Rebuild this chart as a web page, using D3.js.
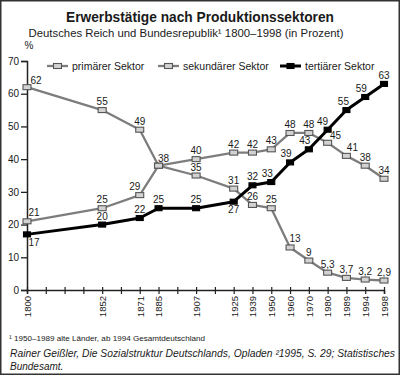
<!DOCTYPE html>
<html lang="de">
<head>
<meta charset="UTF-8">
<title>Erwerbstätige nach Produktionssektoren</title>
<script src="https://d3js.org/d3.v7.min.js"></script>
<style>
  body { margin: 0; background: #fff; }
  svg text { font-family: "Liberation Sans", Arial, Helvetica, sans-serif; fill: #1a1a1a; }
</style>
</head>
<body>
<div id="chart"></div>
<script>
// x axis slots: the years sit on an evenly ticked axis with some empty slots
const slots = ["1800", "", "", "", "1852", "", "1871", "1885", "", "1907", "", "1925", "1939",
               "1950", "1960", "1970", "1980", "1989", "1994", "1998"];
const years = ["1800", "1852", "1871", "1885", "1907", "1925", "1939", "1950", "1960", "1970", "1980", "1989", "1994", "1998"];
const primaer   = [62, 55, 49, 38, 35, 31, 26, 25, 13, 9, 5.3, 3.7, 3.2, 2.9];
const sekundaer = [21, 25, 29, 38, 40, 42, 42, 43, 48, 48, 45, 41, 38, 34];
const tertiaer  = [17, 20, 22, 25, 25, 27, 32, 33, 39, 43, 49, 55, 59, 63];
const yTicks = [0, 10, 20, 30, 40, 50, 60, 70];
const seriesNames = ["primärer Sektor", "sekundärer Sektor", "tertiärer Sektor"];

const W = 400, H = 375;
const svg = d3.select("#chart").append("svg")
    .attr("width", W).attr("height", H);

// frame
svg.append("rect")
    .attr("x", 0.75).attr("y", 0.75)
    .attr("width", W - 1.5).attr("height", H - 1.5)
    .attr("fill", "#fff").attr("stroke", "#333").attr("stroke-width", 1.5);

// titles
svg.append("text")
    .attr("x", 200).attr("y", 22)
    .attr("text-anchor", "middle")
    .attr("font-size", 15).attr("font-weight", "bold")
    .attr("textLength", 268).attr("lengthAdjust", "spacingAndGlyphs")
    .text("Erwerbstätige nach Produktionssektoren");
svg.append("text")
    .attr("x", 186).attr("y", 37)
    .attr("text-anchor", "middle")
    .attr("font-size", 10.5)
    .attr("textLength", 315).attr("lengthAdjust", "spacingAndGlyphs")
    .text("Deutsches Reich und Bundesrepublik¹ 1800–1998 (in Prozent)");

const x = d3.scaleLinear().domain([0, slots.length - 1]).range([27, 384]);
const y = d3.scaleLinear().domain([0, 70]).range([290, 61]);
const xOf = yr => x(slots.indexOf(yr));

// y axis
const yAxis = svg.append("g")
    .attr("transform", "translate(27,0)")
    .call(d3.axisLeft(y).tickValues(yTicks).tickSize(6).tickPadding(2));
yAxis.select(".domain").attr("stroke", "#222").attr("stroke-width", 1.5);
yAxis.selectAll(".tick line").attr("stroke", "#222").attr("stroke-width", 1.3);
yAxis.selectAll(".tick text").attr("font-size", 10).attr("font-family", null).attr("fill", "#1a1a1a");

svg.append("text")
    .attr("x", 29).attr("y", 49)
    .attr("text-anchor", "middle").attr("font-size", 10)
    .text("%");

// x axis: every slot gets a tick, only filled slots get a label
const xAxis = svg.append("g")
    .attr("transform", "translate(0,290)")
    .call(d3.axisBottom(x)
        .tickValues(d3.range(slots.length))
        .tickSize(4)
        .tickFormat(i => slots[i]));
xAxis.select(".domain").attr("stroke", "#222").attr("stroke-width", 1.5);
xAxis.selectAll(".tick line")
    .attr("y1", -3)
    .attr("stroke", "#222").attr("stroke-width", 1.2);
xAxis.selectAll(".tick text")
    .attr("font-size", 9.5).attr("font-family", null).attr("fill", "#1a1a1a")
    .attr("transform", "rotate(-90)")
    .attr("text-anchor", "end")
    .attr("x", -6).attr("y", 0).attr("dy", "0.35em");

// series
const series = [
  { name: seriesNames[0], values: primaer,   color: "#7d7d7d", width: 2.3, fill: "#d2d2d2", stroke: "#555", mw: 8, mh: 5 },
  { name: seriesNames[1], values: sekundaer, color: "#7d7d7d", width: 2.3, fill: "#d2d2d2", stroke: "#555", mw: 8, mh: 5 },
  { name: seriesNames[2], values: tertiaer,  color: "#000",    width: 3,   fill: "#000",    stroke: "#000", mw: 7, mh: 5 }
];

const line = d3.line()
    .x(d => xOf(d.year))
    .y(d => y(d.value));

series.forEach(s => {
  const pts = years.map((yr, i) => ({ year: yr, value: s.values[i] }));
  svg.append("path")
      .datum(pts)
      .attr("fill", "none")
      .attr("stroke", s.color)
      .attr("stroke-width", s.width)
      .attr("stroke-linejoin", "round")
      .attr("d", line);
  svg.append("g").selectAll("rect")
    .data(pts)
    .join("rect")
      .attr("x", d => xOf(d.year) - s.mw / 2)
      .attr("y", d => y(d.value) - s.mh / 2)
      .attr("width", s.mw).attr("height", s.mh)
      .attr("fill", s.fill).attr("stroke", s.stroke).attr("stroke-width", 1.1);
});

// value labels: above the point by default, nudged where the original moves them
const nudge = {
  "0-1800": [9, -3], "1-1800": [7, -5], "2-1800": [7, 12],
  "1-1871": [-5, -5], "1-1885": [5, -4],
  "0-1960": [5, -5], "1-1980": [8, -4], "1-1989": [6, -5],
  "2-1925": [0, 11], "2-1950": [-4, -5], "2-1960": [-4, -5], "2-1970": [-4, -5],
  "2-1980": [-5, -5], "2-1989": [-3, -5], "2-1994": [-4, -5]
};
const skip = new Set(["0-1885"]);
const fmt = v => String(v).replace(".", ",");

series.forEach((s, si) => {
  years.forEach((yr, i) => {
    const key = si + "-" + yr;
    if (skip.has(key)) return;
    const [dx, dy] = nudge[key] || [0, -5];
    svg.append("text")
        .attr("x", xOf(yr) + dx)
        .attr("y", y(s.values[i]) + dy)
        .attr("text-anchor", "middle")
        .attr("font-size", 10)
        .text(fmt(s.values[i]));
  });
});

// legend
const legendX = [47, 158, 280];
series.forEach((s, si) => {
  const g = svg.append("g").attr("transform", `translate(${legendX[si]},66)`);
  g.append("line")
      .attr("x1", 0).attr("x2", 21)
      .attr("stroke", s.color).attr("stroke-width", s.width);
  g.append("rect")
      .attr("x", 10.5 - s.mw / 2).attr("y", -s.mh / 2)
      .attr("width", s.mw).attr("height", s.mh)
      .attr("fill", s.fill).attr("stroke", s.stroke).attr("stroke-width", 1.1);
  g.append("text")
      .attr("x", 25).attr("y", 4)
      .attr("font-size", 10.5)
      .text(s.name);
});

// footnote and source
svg.append("text")
    .attr("x", 9).attr("y", 341)
    .attr("font-size", 7.5)
    .attr("textLength", 196).attr("lengthAdjust", "spacingAndGlyphs")
    .text("¹ 1950–1989 alte Länder, ab 1994 Gesamtdeutschland");
svg.append("text")
    .attr("x", 10).attr("y", 357)
    .attr("font-size", 10).attr("font-style", "italic")
    .attr("textLength", 385).attr("lengthAdjust", "spacingAndGlyphs")
    .text("Rainer Geißler, Die Sozialstruktur Deutschlands, Opladen ²1995, S. 29; Statistisches");
svg.append("text")
    .attr("x", 10).attr("y", 370)
    .attr("font-size", 10).attr("font-style", "italic")
    .text("Bundesamt.");
</script>
</body>
</html>
